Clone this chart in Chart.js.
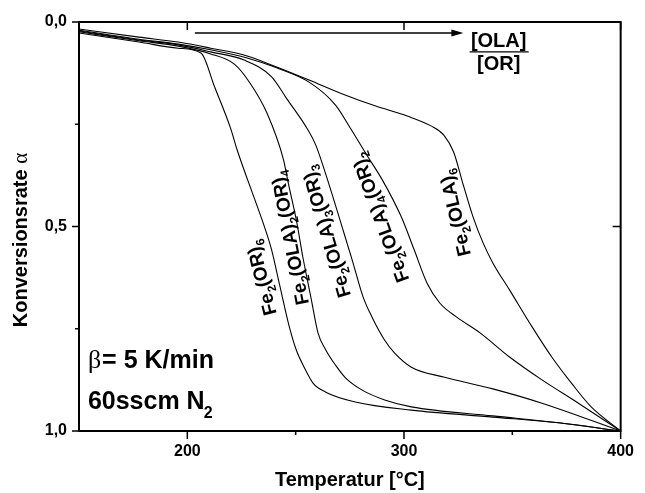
<!DOCTYPE html>
<html>
<head>
<meta charset="utf-8">
<script src="https://cdn.jsdelivr.net/npm/chart.js@4.4.0/dist/chart.umd.min.js"></script>
<style>
  html, body { margin: 0; padding: 0; background: #fff; }
  canvas { display: block; }
</style>
</head>
<body>
<canvas id="tgChart" width="645" height="493"></canvas>
<script>
// TG-Kurven, Temperatur [°C] gegen Konversionsrate
const tempOR6 = [150, 177.7, 195.8, 206.3, 212.6, 219.9, 223.0, 231.2, 235.3, 238.9, 242.6, 247.1, 250.3, 253.9, 258.0, 263.9, 277.5, 303.4, 341.0, 371.4, 400];
const alphaOR6 = [0.027, 0.049, 0.064, 0.076, 0.159, 0.259, 0.313, 0.435, 0.496, 0.557, 0.643, 0.746, 0.802, 0.844, 0.883, 0.905, 0.929, 0.949, 0.966, 0.980, 1.0];

const tempOLA2 = [150, 177.7, 195.8, 210.8, 221.7, 228.9, 236.7, 244.4, 246.6, 250.3, 253.4, 257.1, 260.3, 263.9, 268.4, 273.0, 280.7, 291.1, 303.4, 341.0, 371.4, 400];
const alphaOLA2 = [0.024, 0.046, 0.059, 0.078, 0.103, 0.149, 0.222, 0.337, 0.394, 0.484, 0.577, 0.675, 0.760, 0.802, 0.839, 0.870, 0.900, 0.924, 0.941, 0.963, 0.980, 1.0];

const tempOLA3 = [150, 177.7, 195.8, 210.8, 226.2, 238.9, 245.7, 255.7, 259.3, 265.2, 271.6, 276.1, 281.1, 285.2, 291.1, 295.6, 303.4, 318.3, 341.0, 363.7, 400];
const alphaOLA3 = [0.022, 0.044, 0.056, 0.073, 0.093, 0.134, 0.186, 0.264, 0.301, 0.394, 0.504, 0.582, 0.672, 0.721, 0.778, 0.809, 0.844, 0.868, 0.897, 0.932, 1.0];

const tempOLA4 = [150, 177.7, 195.8, 210.8, 227.6, 241.2, 256.2, 268.4, 275.2, 283.4, 290.0, 298.8, 304.7, 310.6, 316.5, 324.2, 335.1, 348.7, 363.7, 380.5, 400];
const alphaOLA4 = [0.020, 0.042, 0.054, 0.068, 0.088, 0.112, 0.147, 0.203, 0.259, 0.330, 0.386, 0.477, 0.557, 0.638, 0.687, 0.721, 0.760, 0.819, 0.875, 0.932, 1.0];

const tempOLA6 = [150, 177.7, 195.8, 210.8, 227.6, 241.2, 256.2, 271.6, 286.6, 301.5, 312.4, 318.3, 322.9, 327.4, 331.9, 336.5, 341.0, 348.7, 359.2, 368.2, 377.3, 386.4, 400];
const alphaOLA6 = [0.017, 0.037, 0.049, 0.064, 0.083, 0.110, 0.142, 0.176, 0.205, 0.230, 0.254, 0.276, 0.318, 0.399, 0.477, 0.540, 0.589, 0.655, 0.746, 0.819, 0.883, 0.941, 1.0];

const xTicks = [200, 300, 400];
const yTicks = [0, 0.5, 1];

// Kurvenbeschriftungen: Text ("_" = Index), Lage in Datenkoordinaten, Neigung gegen die Senkrechte
const curveLabels = ["Fe_2(OR)_6", "Fe_2(OLA)_2(OR)_4", "Fe_2(OLA)_3(OR)_3", "Fe_2(OLA)_4(OR)_2", "Fe_2(OLA)_6"];
const labelTemp = [233.9, 247.1, 263.9, 288.8, 323.3];
const labelAlpha = [0.626, 0.528, 0.513, 0.479, 0.467];
const labelTilt = [14, 11, 16, 20, 13];

const toPoints = (xs, ys) => xs.map((x, i) => ({ x: x, y: ys[i] }));

const FONT = "'Liberation Sans', Arial, sans-serif";

// Text mit tiefgestellten Zeichen
const drawRich = (ctx, str, x, y, angle, size) => {
  const parts = [];
  for (let i = 0; i < str.length; i++) {
    if (str[i] === "_") {
      parts.push({ t: str[i + 1], sub: true });
      i++;
    } else if (parts.length && !parts[parts.length - 1].sub) {
      parts[parts.length - 1].t += str[i];
    } else {
      parts.push({ t: str[i], sub: false });
    }
  }
  const subSize = Math.round(size * 0.65);
  let w = 0;
  parts.forEach((p) => {
    ctx.font = "bold " + (p.sub ? subSize : size) + "px " + FONT;
    p.w = ctx.measureText(p.t).width;
    w += p.w;
  });
  ctx.save();
  ctx.translate(x, y);
  ctx.rotate(angle);
  ctx.textBaseline = "alphabetic";
  ctx.textAlign = "left";
  let cx = -w / 2;
  const base = size * 0.36;
  parts.forEach((p) => {
    ctx.font = "bold " + (p.sub ? subSize : size) + "px " + FONT;
    ctx.fillText(p.t, cx, p.sub ? base + size * 0.28 : base);
    cx += p.w;
  });
  ctx.restore();
};

const framePlugin = {
  id: "frame",
  afterDraw(chart) {
    const { ctx, chartArea: a, scales } = chart;
    const xs = scales.x;
    const ys = scales.y;
    ctx.save();
    ctx.strokeStyle = "#000";
    ctx.fillStyle = "#000";
    ctx.lineWidth = 2;
    ctx.strokeRect(a.left, a.top, a.right - a.left, a.bottom - a.top);

    // Ticks
    ctx.lineWidth = 1.5;
    ctx.beginPath();
    [200, 250, 300, 350, 400].forEach((v) => {
      const px = xs.getPixelForValue(v);
      const major = v % 100 === 0;
      ctx.moveTo(px, a.bottom);
      ctx.lineTo(px, a.bottom + (major ? 8 : 4));
      if (major) {
        ctx.moveTo(px, a.top);
        ctx.lineTo(px, a.top + 8);
      }
    });
    [0, 0.25, 0.5, 0.75, 1].forEach((v) => {
      const py = ys.getPixelForValue(v);
      const major = v % 0.5 === 0;
      ctx.moveTo(a.left, py);
      ctx.lineTo(a.left - (major ? 7 : 4), py);
      if (major) {
        ctx.moveTo(a.right, py);
        ctx.lineTo(a.right - 8, py);
      }
    });
    ctx.stroke();

    // Achsentitel
    ctx.textBaseline = "alphabetic";
    ctx.textAlign = "center";
    ctx.font = "bold 20px " + FONT;
    ctx.fillText("Temperatur [°C]", (a.left + a.right) / 2, 486);

    ctx.save();
    ctx.translate(27, 240);
    ctx.rotate(-Math.PI / 2);
    ctx.font = "bold 20px " + FONT;
    const t1 = "Konversionsrate ";
    const w1 = ctx.measureText(t1).width;
    ctx.font = "21px 'Liberation Serif', serif";
    const w2 = ctx.measureText("α").width;
    ctx.textAlign = "left";
    ctx.font = "bold 20px " + FONT;
    ctx.fillText(t1, -(w1 + w2) / 2, 0);
    ctx.font = "21px 'Liberation Serif', serif";
    ctx.fillText("α", -(w1 + w2) / 2 + w1, 0);
    ctx.restore();

    // Pfeil [OLA]/[OR]
    const ay = ys.getPixelForValue(0.027);
    const ax0 = xs.getPixelForValue(203.5);
    const ax1 = xs.getPixelForValue(327.4);
    ctx.lineWidth = 1.5;
    ctx.beginPath();
    ctx.moveTo(ax0, ay);
    ctx.lineTo(ax1 - 8, ay);
    ctx.stroke();
    ctx.beginPath();
    ctx.moveTo(ax1, ay);
    ctx.lineTo(ax1 - 12, ay - 3.5);
    ctx.lineTo(ax1 - 12, ay + 3.5);
    ctx.closePath();
    ctx.fill();

    const fx = xs.getPixelForValue(343.7);
    ctx.font = "bold 20px " + FONT;
    ctx.textAlign = "center";
    ctx.fillText("[OLA]", fx, ys.getPixelForValue(0.061));
    ctx.fillText("[OR]", fx, ys.getPixelForValue(0.117));
    const fy = ys.getPixelForValue(0.073);
    ctx.lineWidth = 1.2;
    ctx.beginPath();
    ctx.moveTo(fx - 29, fy);
    ctx.lineTo(fx + 30, fy);
    ctx.stroke();

    // Messbedingungen
    const bx = xs.getPixelForValue(154.1);
    ctx.textAlign = "left";
    const by = ys.getPixelForValue(0.846);
    ctx.font = "26px 'Liberation Serif', serif";
    ctx.fillText("β", bx, by);
    const bw = ctx.measureText("β").width;
    ctx.font = "bold 25px " + FONT;
    ctx.fillText("= 5 K/min", bx + bw + 1, by);
    const ny = ys.getPixelForValue(0.946);
    ctx.fillText("60sscm N", bx, ny);
    const nw = ctx.measureText("60sscm N").width;
    ctx.font = "bold 16px " + FONT;
    ctx.fillText("2", bx + nw - 1, ny + 9);

    // Kurvenbeschriftungen
    curveLabels.forEach((txt, i) => {
      drawRich(
        ctx,
        txt,
        xs.getPixelForValue(labelTemp[i]),
        ys.getPixelForValue(labelAlpha[i]),
        -((90 + labelTilt[i]) * Math.PI) / 180,
        19
      );
    });
    ctx.restore();
  },
};

const series = [
  toPoints(tempOR6, alphaOR6),
  toPoints(tempOLA2, alphaOLA2),
  toPoints(tempOLA3, alphaOLA3),
  toPoints(tempOLA4, alphaOLA4),
  toPoints(tempOLA6, alphaOLA6),
];

new Chart(document.getElementById("tgChart"), {
  type: "scatter",
  data: {
    datasets: series.map((pts) => ({
      data: pts,
      showLine: true,
      borderColor: "#000",
      borderWidth: 1.1,
      pointRadius: 0,
      cubicInterpolationMode: "monotone",
    })),
  },
  options: {
    responsive: false,
    animation: false,
    layout: { padding: { top: 22, right: 15, left: 0, bottom: 0 } },
    plugins: { legend: { display: false }, tooltip: { enabled: false } },
    scales: {
      x: {
        type: "linear",
        min: 150,
        max: 400,
        grid: { display: false, drawTicks: false },
        border: { display: false },
        afterFit: (s) => { s.height = 62; },
        afterBuildTicks: (s) => { s.ticks = xTicks.map((v) => ({ value: v })); },
        ticks: {
          color: "#000",
          padding: 11,
          maxRotation: 0,
          autoSkip: false,
          font: { family: FONT, size: 16, weight: "bold" },
          callback: (v) => String(v),
        },
      },
      y: {
        min: 0,
        max: 1,
        reverse: true,
        grid: { display: false, drawTicks: false },
        border: { display: false },
        afterFit: (s) => { s.width = 79; },
        afterBuildTicks: (s) => { s.ticks = yTicks.map((v) => ({ value: v })); },
        ticks: {
          color: "#000",
          padding: 12,
          autoSkip: false,
          font: { family: FONT, size: 16, weight: "bold" },
          callback: (v) => v.toFixed(1).replace(".", ","),
        },
      },
    },
  },
  plugins: [framePlugin],
});
</script>
</body>
</html>
